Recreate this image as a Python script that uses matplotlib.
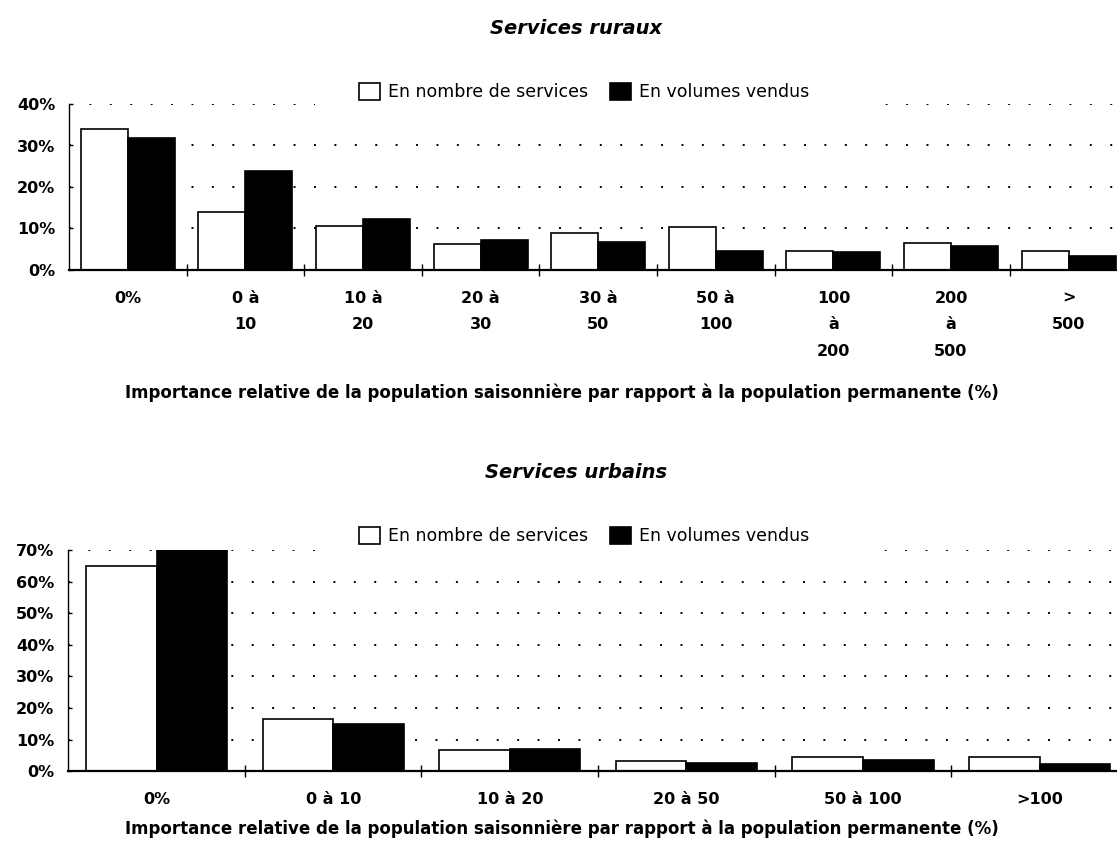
import numpy as np
import matplotlib
matplotlib.use('Agg')
import matplotlib.pyplot as plt
from matplotlib.patches import Patch, Rectangle
from matplotlib.ticker import FuncFormatter

# Services ruraux
rural_cats = ['0%', '0 à\n10', '10 à\n20', '20 à\n30', '30 à\n50', '50 à\n100',
              '100\nà\n200', '200\nà\n500', '>\n500']
rural_nombre = [33.9, 14.0, 10.6, 6.3, 9.0, 10.3, 4.6, 6.4, 4.5]
rural_volumes = [31.9, 23.9, 12.4, 7.3, 6.7, 4.6, 4.3, 5.8, 3.3]

# Services urbains
urbain_cats = ['0%', '0 à 10', '10 à 20', '20 à 50', '50 à 100', '>100']
urbain_nombre = [65.0, 16.4, 6.8, 3.4, 4.5, 4.4]
urbain_volumes = [70.0, 15.1, 7.0, 2.7, 3.5, 2.3]

series_labels = ['En nombre de services', 'En volumes vendus']
xlabel = 'Importance relative de la population saisonnière par rapport à la population permanente (%)'

W, H = 1117, 846
fig = plt.figure(figsize=(W / 100, H / 100), dpi=100)


def fx(px):
    return px / W


def fy(py):
    return 1 - py / H


def draw_panel(ax, cats, nombre, volumes, ymax):
    x = np.arange(len(cats))
    ax.bar(x - 0.2, nombre, 0.4, color='white', edgecolor='black', lw=1.2)
    ax.bar(x + 0.2, volumes, 0.4, color='black', edgecolor='black', lw=1.2)
    ax.set_xlim(-0.5, len(cats) - 0.5)
    ax.set_ylim(0, ymax)
    ax.set_yticks(range(0, ymax + 1, 10))
    ax.yaxis.set_major_formatter(FuncFormatter(lambda v, p: f'{v:.0f}%'))
    ax.set_xticks(x + 0.5)
    ax.set_xticklabels([])
    ax.set_xticks(x, minor=True)
    ax.set_xticklabels(cats, minor=True, fontweight='bold', fontsize=11.5,
                       linespacing=1.95)
    ax.tick_params(axis='x', which='major', direction='inout', length=9, width=1)
    ax.tick_params(axis='x', which='minor', length=0, pad=15)
    ax.tick_params(axis='y', direction='in', length=3, width=1, pad=10,
                   labelsize=11.5)
    for t in ax.get_yticklabels():
        t.set_fontweight('bold')
    ax.grid(axis='y', ls=(0, (1, 9.5)), lw=1.4, color='black')
    ax.set_axisbelow(True)
    ax.spines[['top', 'right']].set_visible(False)
    ax.spines['left'].set_linewidth(1)
    ax.spines['bottom'].set_linewidth(1.6)


def add_legend(ycenter):
    # white mask behind the legend hides the top gridline
    fig.add_artist(Rectangle((fx(315), fy(ycenter + 18)), fx(884) - fx(315),
                             fy(ycenter - 12) - fy(ycenter + 18),
                             transform=fig.transFigure, facecolor='white',
                             edgecolor='none', zorder=1))
    handles = [Patch(facecolor='white', edgecolor='black', lw=1.2),
               Patch(facecolor='black', edgecolor='black', lw=1.2)]
    fig.legend(handles, series_labels, loc='center', ncol=2,
               bbox_to_anchor=(fx(584), fy(ycenter)), frameon=False,
               fontsize=12.5, handlelength=1.2, handleheight=1.2,
               handletextpad=0.45, columnspacing=1.3)


# top panel
ax1 = fig.add_axes([fx(69), fy(270), fx(117.6 * 9), fy(104) - fy(270)])
draw_panel(ax1, rural_cats, rural_nombre, rural_volumes, 40)
fig.text(fx(576), fy(29), 'Services ruraux', ha='center', va='center',
         fontsize=14, fontweight='bold', fontstyle='italic')
add_legend(92)
fig.text(fx(562), fy(393), xlabel, ha='center', va='center',
         fontsize=12, fontweight='bold')

# bottom panel
ax2 = fig.add_axes([fx(68.3), fy(771.3), fx(176.6 * 6), fy(550) - fy(771.3)])
draw_panel(ax2, urbain_cats, urbain_nombre, urbain_volumes, 70)
fig.text(fx(576), fy(472), 'Services urbains', ha='center', va='center',
         fontsize=14, fontweight='bold', fontstyle='italic')
add_legend(536)
fig.text(fx(562), fy(829), xlabel, ha='center', va='center',
         fontsize=12, fontweight='bold')

fig.savefig('out.png', dpi=100)
